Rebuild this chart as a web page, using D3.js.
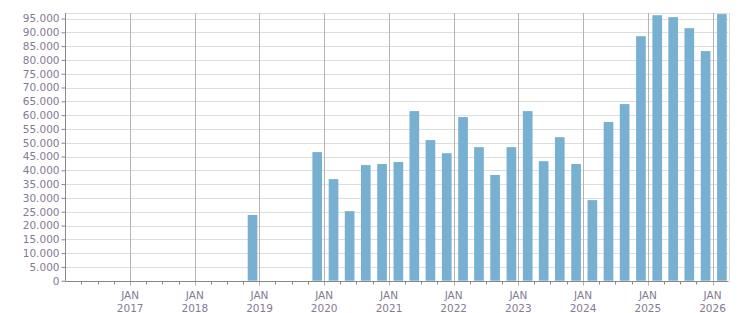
<!DOCTYPE html>
<html><head><meta charset="utf-8">
<script src="https://cdn.jsdelivr.net/npm/d3@7"></script>
<style>body{margin:0;background:#fff}svg{display:block}text{font-family:"DejaVu Sans",Verdana,sans-serif;font-size:10px;fill:#857a94}</style>
</head><body><svg id="c" width="751" height="313"></svg>
<script>
const quarters = ["2018-10","2019-10","2020-01","2020-04","2020-07","2020-10","2021-01","2021-04","2021-07","2021-10","2022-01","2022-04","2022-07","2022-10","2023-01","2023-04","2023-07","2023-10","2024-01","2024-04","2024-07","2024-10","2025-01","2025-04","2025-07","2025-10","2026-01"];
const values = [23800,46600,36800,25200,41900,42300,43000,61450,50950,46200,59300,48400,38300,48400,61450,43300,52000,42300,29200,57500,64000,88600,96200,95500,91500,83200,96600];
const yTicks = d3.range(0, 95001, 5000);
const yearTicks = [2017,2018,2019,2020,2021,2022,2023,2024,2025,2026];

const svg = d3.select("#c");
const m = {l:65.3, r:728.5, t:13, b:280.7};
const parse = d3.timeParse("%Y-%m");
const x = d3.scaleTime().domain([new Date(2016,0,1), new Date(2026,3,1)]).range([m.l, m.r]);
const y = d3.scaleLinear().domain([0, 97000]).range([m.b, m.t]);
const fmt = v => d3.format(",")(v).replace(/,/g, ".");

// horizontal grid
svg.append("g").selectAll("line").data(yTicks).join("line")
  .attr("x1", m.l).attr("x2", m.r).attr("y1", d => Math.round(y(d))+0.5).attr("y2", d => Math.round(y(d))+0.5)
  .attr("stroke", "#dedede");
// top & right border
svg.append("line").attr("x1", m.l).attr("x2", m.r).attr("y1", m.t+0.5).attr("y2", m.t+0.5).attr("stroke", "#dedede");
svg.append("line").attr("x1", Math.round(m.r)+0.5).attr("x2", Math.round(m.r)+0.5).attr("y1", m.t).attr("y2", m.b).attr("stroke", "#dedede");
// vertical year grid
svg.append("g").selectAll("line").data(yearTicks).join("line")
  .attr("x1", d => Math.round(x(new Date(d,0,1)))+0.5).attr("x2", d => Math.round(x(new Date(d,0,1)))+0.5)
  .attr("y1", m.t).attr("y2", m.b + 5).attr("stroke", "#b4b4b4");

// bars
const qw = x(new Date(2020,3,1)) - x(new Date(2020,0,1));
svg.append("g").selectAll("rect").data(quarters).join("rect")
  .attr("x", d => x(parse(d)) + qw*0.28)
  .attr("width", qw*0.6)
  .attr("y", (d,i) => y(values[i]))
  .attr("height", (d,i) => y(0) - y(values[i]))
  .attr("fill", "#78b0d2");

// y axis
const ya = svg.append("g").attr("transform", `translate(${Math.round(m.l)+0.5},0)`)
  .call(d3.axisLeft(y).tickValues(yTicks).tickSize(4).tickPadding(2).tickFormat(fmt));
ya.select(".domain").attr("stroke", "#888").attr("d", `M0,${m.t}V${m.b}`);
ya.selectAll(".tick line").attr("stroke", "#888");
ya.selectAll("text").attr("fill", "#857a94").style("font-size","10.5px");

// x axis
const xa = svg.append("g").attr("transform", `translate(0,${Math.round(m.b)+0.5})`);
xa.append("line").attr("x1", m.l).attr("x2", m.r).attr("stroke", "#888");
const qTicks = d3.timeMonth.every(3).range(new Date(2016,3,1), new Date(2026,3,1)).filter(d => d.getMonth() !== 0);
xa.selectAll(".q").data(qTicks).join("line").attr("class","q")
  .attr("x1", d => Math.round(x(d))+0.5).attr("x2", d => Math.round(x(d))+0.5)
  .attr("y1", 0).attr("y2", 3).attr("stroke", "#888");
const lab = xa.selectAll(".lab").data(yearTicks).join("text").attr("class","lab")
  .attr("text-anchor","middle").attr("x", d => x(new Date(d,0,1)))
  .style("font-size","10.5px");
lab.append("tspan").attr("x", d => x(new Date(d,0,1))).attr("y", 17).text("JAN");
lab.append("tspan").attr("x", d => x(new Date(d,0,1))).attr("y", 30).text(d => d);
</script></body></html>
